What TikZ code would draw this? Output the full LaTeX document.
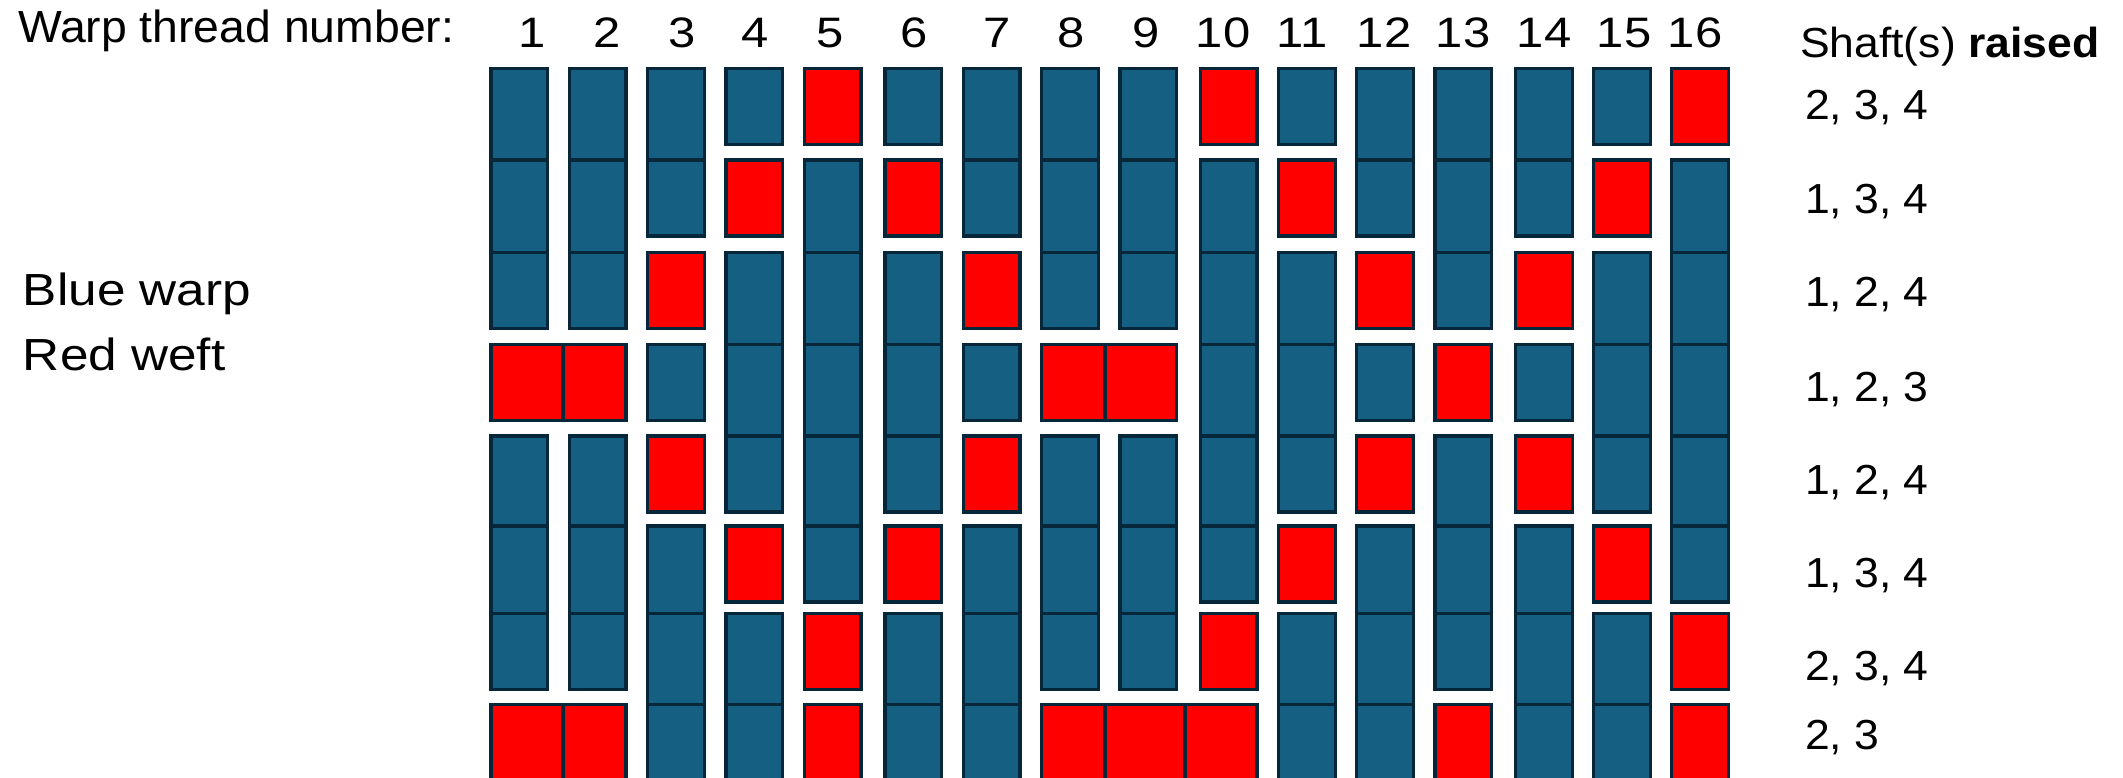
\documentclass[tikz,border=0pt]{standalone}
\usepackage{fontspec}
\setmainfont{Liberation Sans}
\newfontfamily\fwarp[FakeStretch=1.03]{Liberation Sans}
\newfontfamily\fdig[FakeStretch=1.15]{Liberation Sans}
\newfontfamily\flegend[FakeStretch=1.14]{Liberation Sans}
\newfontfamily\fshaft[FakeStretch=1.06]{Liberation Sans}
\definecolor{warpblue}{HTML}{156082}
\definecolor{cellline}{HTML}{06263A}
\definecolor{weftred}{HTML}{FF0000}
\tikzset{
  warpcell/.style={fill=warpblue,draw=cellline,line width=3.3pt},
  weftcell/.style={fill=weftred,draw=cellline,line width=3.3pt},
  lbl/.style={inner sep=0pt,outer sep=0pt,text=black},
}
\def\colL{{489.3,567.7,646,724.3,802.7,883.3,961.7,1040,1118.3,1198.7,1277,1355,1433.3,1514,1592,1670}}
\def\joinX{{0,563,0,0,0,0,0,0,1105,1185,0,0,0,0,0,0}}
\def\rowT{{66.7,158.3,250.7,342.7,434.3,524.3,612,702.7}}
\def\pat{{0,0,0,0,1,0,0,0,0,1,0,0,0,0,0,1,
0,0,0,1,0,1,0,0,0,0,1,0,0,0,1,0,
0,0,1,0,0,0,1,0,0,0,0,1,0,1,0,0,
1,1,0,0,0,0,0,1,1,0,0,0,1,0,0,0,
0,0,1,0,0,0,1,0,0,0,0,1,0,1,0,0,
0,0,0,1,0,1,0,0,0,0,1,0,0,0,1,0,
0,0,0,0,1,0,0,0,0,1,0,0,0,0,0,1,
1,1,0,0,1,0,0,1,1,1,0,0,1,0,0,1}}
\begin{document}
\begin{tikzpicture}[x=1pt,y=-1pt]
\useasboundingbox (0,0) rectangle (2123,778);
\clip (0,0) rectangle (2123,778);
\fill[white] (0,0) rectangle (2123,778);
% cells
\foreach \r in {0,...,7}{
  \foreach \c in {0,...,15}{
    \pgfmathtruncatemacro\v{\pat[16*\r+\c]}
    \pgfmathsetmacro\xl{\colL[\c]+1.6}
    \pgfmathsetmacro\xr{\colL[\c]+58.4}
    \pgfmathsetmacro\yt{\rowT[\r]+1.6}
    \pgfmathsetmacro\yb{\rowT[\r]+77.7}
    \ifnum\v=0
      \ifnum\r<7
        \pgfmathtruncatemacro\vb{\pat[16*(\r+1)+\c]}
        \ifnum\vb=0 \pgfmathsetmacro\yb{\rowT[\r+1]+1.6}\fi
      \fi
      \filldraw[warpcell] (\xl,\yt) rectangle (\xr,\yb);
    \else
      \ifnum\c>0
        \pgfmathtruncatemacro\vl{\pat[16*\r+\c-1]}
        \ifnum\vl=1 \pgfmathsetmacro\xl{\joinX[\c]}\fi
      \fi
      \ifnum\c<15
        \pgfmathtruncatemacro\vr{\pat[16*\r+\c+1]}
        \ifnum\vr=1 \pgfmathsetmacro\xr{\joinX[\c+1]}\fi
      \fi
      \filldraw[weftcell] (\xl,\yt) rectangle (\xr,\yb);
    \fi
  }
}
% header
\node[lbl,anchor=base west,font=\fwarp\fontsize{45}{54}\selectfont] (title) at (18,43) {Warp thread number:};
\foreach \n/\x in {1/532,2/607,3/682,4/755,5/830,6/914,7/997,8/1071,9/1146,10/1223,11/1302,12/1384,13/1463,14/1544,15/1624,16/1695}{
  \node[lbl,anchor=base,font=\fdig\fontsize{42.6}{50}\selectfont] (n\n) at (\x,48) {\n};
}
\node[lbl,anchor=base west,font=\fshaft\fontsize{42}{50}\selectfont] (shafthead) at (1800,57.3) {Shaft(s) \textbf{raised}};
% legend
\node[lbl,anchor=base west,font=\flegend\fontsize{45}{54}\selectfont] (blue) at (23,305) {Blue warp};
\node[lbl,anchor=base west,font=\flegend\fontsize{45}{54}\selectfont] (red) at (23,370) {Red weft};
% shafts raised per pick
\tikzset{shaftval/.style={lbl,anchor=base west,font=\fshaft\fontsize{42}{50}\selectfont}}
\node[shaftval] (s1) at (1805,120) {2, 3, 4};
\node[shaftval] (s2) at (1805,213.3) {1, 3, 4};
\node[shaftval] (s3) at (1805,306.7) {1, 2, 4};
\node[shaftval] (s4) at (1805,401) {1, 2, 3};
\node[shaftval] (s5) at (1805,494) {1, 2, 4};
\node[shaftval] (s6) at (1805,587.3) {1, 3, 4};
\node[shaftval] (s7) at (1805,680) {2, 3, 4};
\node[shaftval] (s8) at (1805,749) {2, 3};
\end{tikzpicture}
\end{document}
